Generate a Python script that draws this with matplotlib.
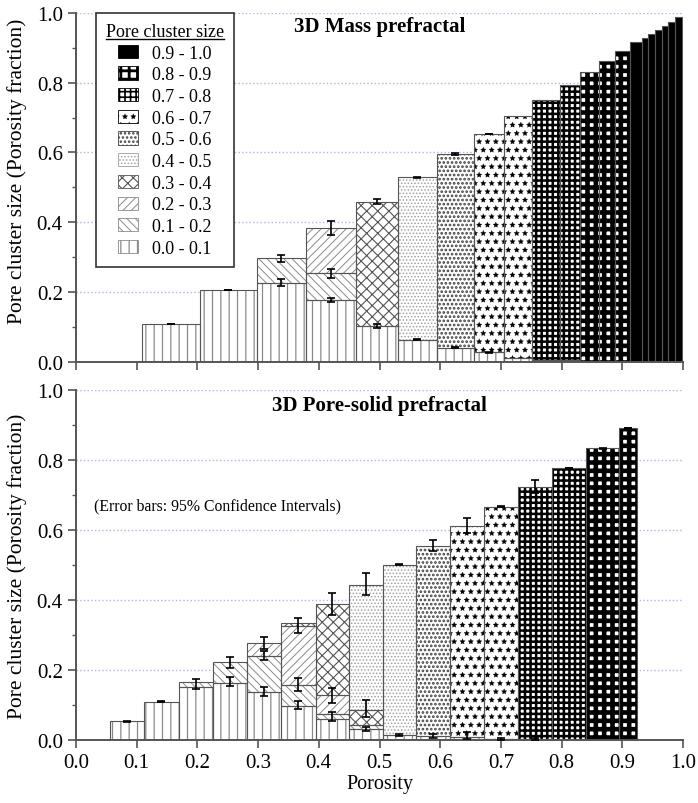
import numpy as np
import matplotlib
matplotlib.use("Agg")
import matplotlib.pyplot as plt
from matplotlib.patches import Patch
from matplotlib.lines import Line2D

plt.rcParams['font.family'] = ['Liberation Serif', 'DejaVu Serif']

# cluster size classes (legend order bottom -> top)
class_labels = ['0.0 - 0.1', '0.1 - 0.2', '0.2 - 0.3', '0.3 - 0.4', '0.4 - 0.5',
                '0.5 - 0.6', '0.6 - 0.7', '0.7 - 0.8', '0.8 - 0.9', '0.9 - 1.0']

# ---- 3D Mass prefractal: bar left edges (porosity) and stacked class heights ----
mass_left = [0.108, 0.204, 0.298, 0.379, 0.461, 0.530, 0.595, 0.655, 0.705, 0.751,
             0.797, 0.830, 0.862, 0.888, 0.913, 0.932, 0.943, 0.954, 0.965, 0.976, 0.987]
mass_end = 0.998
mass_c0 = [0.108, 0.206, 0.226, 0.177, 0.103, 0.063, 0.040, 0.027, 0.012, 0.006,
           0.004, 0.003, 0.003, 0.002, 0, 0, 0, 0, 0, 0, 0]
mass_c1 = [0, 0, 0.071, 0.077] + [0] * 17
mass_c2 = [0, 0, 0, 0.129] + [0] * 17
mass_c3 = [0, 0, 0, 0, 0.356] + [0] * 16
mass_c4 = [0] * 5 + [0.466] + [0] * 15
mass_c5 = [0] * 6 + [0.556] + [0] * 14
mass_c6 = [0] * 7 + [0.626, 0.692] + [0] * 12
mass_c7 = [0] * 9 + [0.745, 0.789] + [0] * 10
mass_c8 = [0] * 11 + [0.829, 0.860, 0.888] + [0] * 7
mass_c9 = [0] * 14 + [0.916, 0.928, 0.940, 0.951, 0.963, 0.975, 0.988]

mass_err_idx = [0, 1, 2, 2, 3, 3, 3, 4, 4, 5, 5, 6, 6, 7, 7]
mass_err_y = [0.108, 0.206, 0.226, 0.297, 0.177, 0.254, 0.383, 0.103, 0.459,
              0.063, 0.529, 0.040, 0.596, 0.027, 0.653]
mass_err = [0.001, 0.001, 0.010, 0.010, 0.006, 0.013, 0.020, 0.006, 0.008,
            0.002, 0.002, 0.002, 0.002, 0.001, 0.001]

# ---- 3D Pore-solid prefractal ----
ps_left = [0.056, 0.1125, 0.169, 0.225, 0.281, 0.338, 0.395, 0.449, 0.505, 0.560,
           0.616, 0.672, 0.728, 0.784, 0.840, 0.895]
ps_end = 0.925
ps_c0 = [0.053, 0.109, 0.150, 0.163, 0.136, 0.096, 0.060, 0.031, 0.013, 0.010,
         0.008, 0.003, 0.002, 0, 0, 0]
ps_c1 = [0, 0, 0.017, 0.059, 0.105, 0.062, 0.014, 0.012] + [0] * 8
ps_c2 = [0, 0, 0, 0, 0.036, 0.169, 0.055] + [0] * 9
ps_c3 = [0, 0, 0, 0, 0, 0.006, 0.260, 0.044] + [0] * 8
ps_c4 = [0] * 7 + [0.357, 0.488] + [0] * 7
ps_c5 = [0] * 9 + [0.545] + [0] * 6
ps_c6 = [0] * 10 + [0.604, 0.664] + [0] * 4
ps_c7 = [0] * 12 + [0.720, 0.777] + [0] * 2
ps_c8 = [0] * 14 + [0.833, 0.891]
ps_c9 = [0] * 16

ps_err_idx = [0, 1, 2, 3, 3, 4, 4, 4, 5, 5, 5, 6, 6, 6, 7, 7, 7, 8, 8, 9, 9,
              10, 10, 11, 11, 12, 12, 13, 14, 15]
ps_err_y = [0.053, 0.109, 0.160, 0.167, 0.222, 0.138, 0.241, 0.277, 0.100, 0.158,
            0.327, 0.067, 0.127, 0.389, 0.031, 0.089, 0.446, 0.015, 0.501, 0.012,
            0.555, 0.012, 0.612, 0.003, 0.667, 0.003, 0.724, 0.777, 0.833, 0.891]
ps_err = [0.001, 0.001, 0.014, 0.012, 0.015, 0.013, 0.012, 0.017, 0.012, 0.019,
          0.022, 0.012, 0.021, 0.031, 0.005, 0.024, 0.031, 0.003, 0.002, 0.006,
          0.015, 0.010, 0.022, 0.002, 0.001, 0.004, 0.018, 0.001, 0.001, 0.001]

# fill style per class: (face, hatch, hatch colour, hatch linewidth)
styles = [
    ('white', '||', '#8a8a8a', 0.9),
    ('white', '\\\\\\\\', '#8a8a8a', 0.7),
    ('white', '////', '#8a8a8a', 0.7),
    ('white', 'xxx', '#555555', 0.8),
    ('white', '.....', '#a0a0a0', 0.7),
    ('white', '....', '#404040', 1.3),
    ('white', '**', 'black', 0.2),
    ('white', '+++', 'black', 1.8),
    ('white', '++', 'black', 3.3),
    ('black', '', 'black', 0.6),
]


def set_hlw(patch, hlw):
    if hasattr(patch, 'set_hatch_linewidth'):
        patch.set_hatch_linewidth(hlw)


def draw_panel(ax, left, end, classes, err_idx, err_y, err):
    left = np.array(left)
    width = np.diff(np.append(left, end))
    bottom = np.zeros(len(left))
    for k, vals in enumerate(classes):
        vals = np.array(vals, dtype=float)
        m = vals > 0
        if m.any():
            face, hatch, hcol, hlw = styles[k]
            plt.rcParams['hatch.linewidth'] = hlw
            bars = ax.bar(left[m], vals[m], width[m], bottom=bottom[m], align='edge',
                          color=face, edgecolor=hcol, hatch=hatch, linewidth=0, zorder=2)
            for b in bars:
                set_hlw(b, hlw)
            ax.bar(left[m], vals[m], width[m], bottom=bottom[m], align='edge',
                   fill=False, edgecolor='#555555', linewidth=0.8, zorder=3)
        bottom += vals
    centers = left + width / 2
    ax.errorbar(centers[err_idx], err_y, yerr=err, fmt='none', ecolor='black',
                elinewidth=1.2, capsize=3, capthick=1.2, zorder=5)


def style_axes(ax):
    ax.set_xlim(0, 1)
    ax.set_ylim(0, 1)
    ax.set_axisbelow(True)
    for s in ['top', 'right']:
        ax.spines[s].set_visible(False)
    for s in ['left', 'bottom']:
        ax.spines[s].set_color('#555555')
        ax.spines[s].set_linewidth(1.4)
    ax.set_xticks(np.arange(0, 1.01, 0.1))
    ax.set_yticks(np.arange(0, 1.01, 0.2))
    ax.set_yticks(np.arange(0.1, 1.0, 0.2), minor=True)
    ax.tick_params(axis='both', which='major', direction='out', length=6, width=1.2,
                   color='#555555', labelsize=15)
    ax.tick_params(axis='y', which='minor', direction='out', length=3, width=1.0,
                   color='#555555')
    ax.yaxis.set_major_formatter(matplotlib.ticker.FormatStrFormatter('%.1f'))
    ax.xaxis.set_major_formatter(matplotlib.ticker.FormatStrFormatter('%.1f'))
    ax.yaxis.grid(True, linestyle=':', color='#aeb4e8', linewidth=1.0)
    ax.set_ylabel('Pore cluster size (Porosity fraction)', fontsize=15.5, labelpad=4)


fig = plt.figure(figsize=(6.98, 8.04), dpi=100)
ax1 = fig.add_axes([0.1089, 0.5489, 0.8696, 0.4337])
ax2 = fig.add_axes([0.1089, 0.0784, 0.8696, 0.4353])

mass_classes = [mass_c0, mass_c1, mass_c2, mass_c3, mass_c4, mass_c5, mass_c6,
                mass_c7, mass_c8, mass_c9]
ps_classes = [ps_c0, ps_c1, ps_c2, ps_c3, ps_c4, ps_c5, ps_c6, ps_c7, ps_c8, ps_c9]

draw_panel(ax1, mass_left, mass_end, mass_classes, mass_err_idx, mass_err_y, mass_err)
draw_panel(ax2, ps_left, ps_end, ps_classes, ps_err_idx, ps_err_y, ps_err)
style_axes(ax1)
style_axes(ax2)
ax1.yaxis.set_label_coords(-0.08, 0.55)
ax2.yaxis.set_label_coords(-0.08, 0.5)
ax1.tick_params(axis='x', labelbottom=False)
ax2.set_xlabel('Porosity', fontsize=14.5, labelpad=1)

ax1.text(0.5, 0.99, '3D Mass prefractal', transform=ax1.transAxes, ha='center',
         va='top', fontsize=15, fontweight='bold')
ax2.text(0.5, 0.985, '3D Pore-solid prefractal', transform=ax2.transAxes, ha='center',
         va='top', fontsize=15, fontweight='bold')
ax2.text(0.233, 0.669, '(Error bars: 95% Confidence Intervals)', ha='center',
         va='center', fontsize=11.3)

# legend
handles = []
for face, hatch, hcol, hlw in styles:
    handles.append(Patch(facecolor=face, edgecolor=hcol, hatch=hatch, linewidth=0.6))
leg = ax1.legend(handles[::-1], class_labels[::-1], title='Pore cluster size',
                 loc='upper left', bbox_to_anchor=(0.033, 1.0), borderaxespad=0,
                 fontsize=13, title_fontsize=13, frameon=True, fancybox=False,
                 edgecolor='#333333', framealpha=1, handlelength=1.1, handleheight=0.75,
                 labelspacing=0.26, borderpad=0.55, handletextpad=0.8)
leg.get_frame().set_linewidth(1.2)
leg.set_zorder(10)
for p, st in zip(leg.get_patches(), styles[::-1]):
    set_hlw(p, min(st[3], 1.2) if st[1] != '++' else 2.0)

fig.canvas.draw()
r = fig.canvas.get_renderer()
tb = leg.get_title().get_window_extent(r)
inv = fig.transFigure.inverted()
(x0, y0), (x1_, _) = inv.transform([(tb.x0, tb.y0 + 1), (tb.x1, tb.y0)])
fig.add_artist(Line2D([x0, x1_], [y0, y0], color='black', linewidth=1.0,
                      transform=fig.transFigure, zorder=20))

fig.savefig('out.png', dpi=100)
